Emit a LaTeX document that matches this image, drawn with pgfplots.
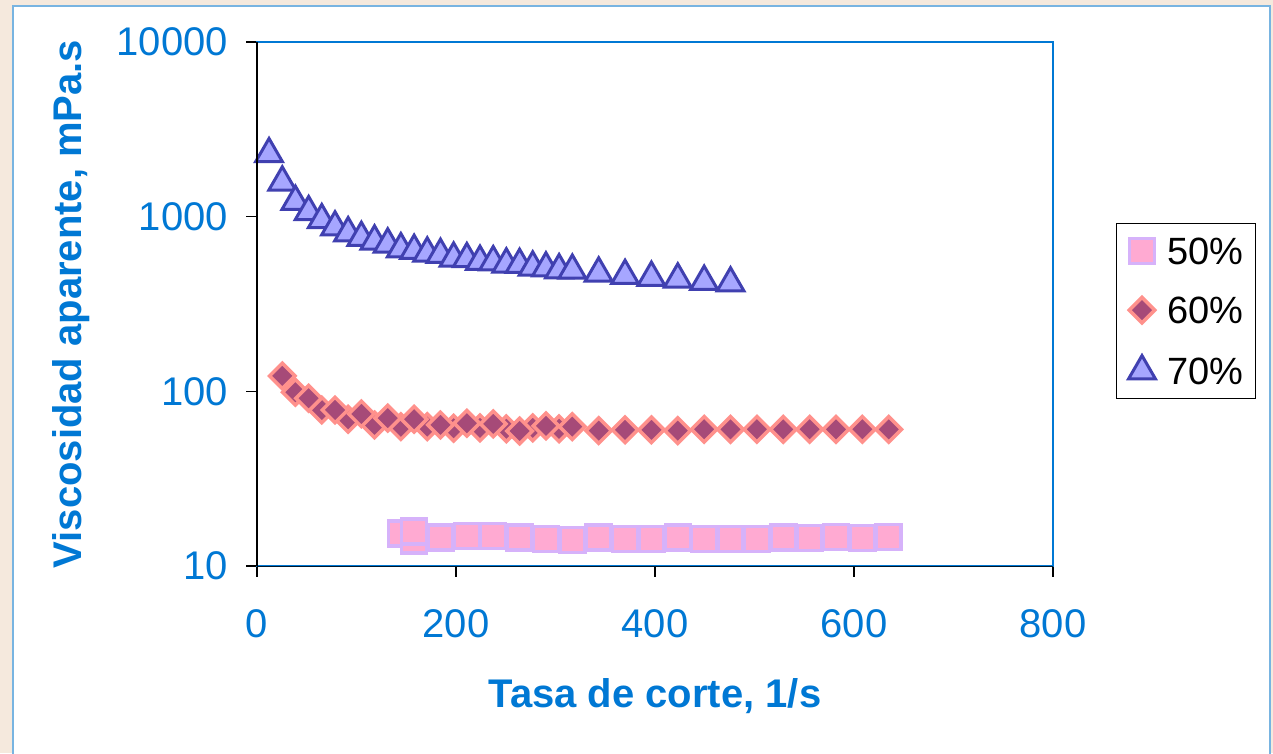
\documentclass[border=0pt]{standalone}
\usepackage{fontspec}
\setmainfont{Liberation Sans}
\usepackage{pgfplots}
\pgfplotsset{compat=1.18}
\definecolor{axblue}{RGB}{0,120,212}
\definecolor{bgbeige}{RGB}{245,233,221}
\definecolor{panelborder}{RGB}{120,180,225}
\definecolor{sqfill}{RGB}{255,170,210}
\definecolor{sqdraw}{RGB}{214,178,250}
\definecolor{dmfill}{RGB}{166,74,120}
\definecolor{dmdraw}{RGB}{255,145,140}
\definecolor{trfill}{RGB}{166,166,255}
\definecolor{trdraw}{RGB}{64,64,176}
\begin{document}
\begin{tikzpicture}
\useasboundingbox (0pt,0pt) rectangle (1273pt,753pt);
\fill[bgbeige] (0pt,0pt) rectangle (1273pt,753pt);
\filldraw[fill=white, draw=panelborder, line width=2.5pt] (13pt,-10pt) rectangle (1270pt,747pt);
\begin{axis}[
  at={(257pt,187pt)}, anchor=south west,
  scale only axis, width=796pt, height=524pt,
  xmin=0, xmax=800, ymin=10, ymax=10000,
  ymode=log, log basis y=10,
  xtick={0,200,400,600,800},
  xticklabels={0,200,400,600,800},
  ytick={10,100,1000,10000},
  yticklabels={10,100,1000,10000},
  yminorticks=false,
  /pgf/number format/assume math mode=true,
  tick align=outside,
  xtick pos=bottom, ytick pos=left,
  major tick length=11pt,
  every tick/.style={black, line width=1.2pt},
  axis line style={draw=axblue, line width=2pt},
  ticklabel style={font=\fontsize{40}{42}\selectfont, text=axblue, inner sep=0pt},
  xticklabel style={anchor=north, yshift=-32pt},
  yticklabel style={anchor=east, xshift=-18pt},
  clip=false,
  xlabel={Tasa de corte, 1/s},
  ylabel={Viscosidad aparente, mPa.s},
  every axis x label/.style={at={(axis description cs:0.5,-0.2481)}, anchor=center, font=\fontsize{40}{44}\selectfont\bfseries, text=axblue},
  every axis y label/.style={at={(axis description cs:-0.2337,0.5)}, anchor=center, rotate=90, font=\fontsize{40}{44}\selectfont\bfseries, text=axblue},
  legend style={at={(axis description cs:1.0791,0.6546)}, anchor=north west, draw=black, line width=1.2pt, fill=white,
    inner xsep=12pt, inner ysep=14pt, row sep=32pt, column sep=12pt,
    font=\fontsize{38}{40}\selectfont,
    nodes={inner sep=0pt, text height=27pt, text depth=0pt}},
  legend cell align=left,
  legend image code/.code={\draw[mark repeat=2,mark phase=2,#1] plot coordinates {(0pt,0pt) (15pt,0pt) (30pt,0pt)};},
  extra description/.code={
    \draw[black, line width=1.5pt] (rel axis cs:0,0) -- (rel axis cs:0,1);
    \draw[black!80!axblue, line width=1pt] (rel axis cs:0,0) -- (rel axis cs:1,0);
  },
]
% 50%
\addplot[only marks, line width=3.5pt, mark=square*, mark size=12.5pt, mark options={fill=sqfill, draw=sqdraw, line width=3.5pt}] coordinates {
(144.6,15.3) (157.9,14.0) (157.9,15.8) (184.4,14.6) (210.9,14.9) (237.4,14.86) (263.9,14.55)
(290.4,14.3) (316.9,14.1) (343.4,14.55) (369.9,14.25) (396.4,14.3) (422.9,14.55) (449.4,14.3)
(475.9,14.3) (502.4,14.3) (528.9,14.55) (555.4,14.45) (581.9,14.7) (608.4,14.45) (634.9,14.7)
};
\addlegendentry{50\%\hspace{6pt}}
% 60%
\addplot[only marks, line width=3.5pt, mark=square*, mark size=9pt, mark options={fill=dmfill, draw=dmdraw, line width=3.5pt, rotate=45}] coordinates {
(65.1,78.2) (91.6,69.2) (118.1,64.2) (144.6,62.8) (171.1,62.8) (197.6,61.5) (224.1,61.8)
(250.6,61.0) (277.1,61.8) (303.6,61.0)
(25.4,122.5) (38.6,98.8) (51.9,91.3) (78.4,78.2) (104.9,74.3) (131.4,70.2) (157.9,69.2)
(184.4,64.2) (210.9,65.7) (237.4,65.1) (263.9,59.3) (290.4,63.4) (316.9,62.8)
(343.4,59.6) (369.9,60.2) (396.4,60.2) (422.9,59.6) (449.4,60.6) (475.9,60.6) (502.4,60.6)
(528.9,60.6) (555.4,60.6) (581.9,60.6) (608.4,60.6) (634.9,60.6)
};
\addlegendentry{60\%\hspace{6pt}}
% 70%
\addplot[only marks, line width=3pt, mark=triangle*, mark size=15.5pt, mark options={fill=trfill, draw=trdraw, line width=3pt}] coordinates {
(12.1,2285) (25.4,1573) (38.6,1219) (51.9,1064) (65.1,957) (78.4,870) (91.6,806)
(104.9,758) (118.1,723) (131.4,695) (144.6,653) (157.9,639) (171.1,617) (184.4,606)
(197.6,577) (210.9,573) (224.1,553) (237.4,550) (250.6,534) (263.9,531) (277.1,513)
(290.4,507) (303.6,495) (316.9,492)
(343.4,474) (369.9,459) (396.4,448) (422.9,438) (449.4,425) (475.9,416)
};
\addlegendentry{70\%\hspace{6pt}}
\end{axis}
\end{tikzpicture}
\end{document}
